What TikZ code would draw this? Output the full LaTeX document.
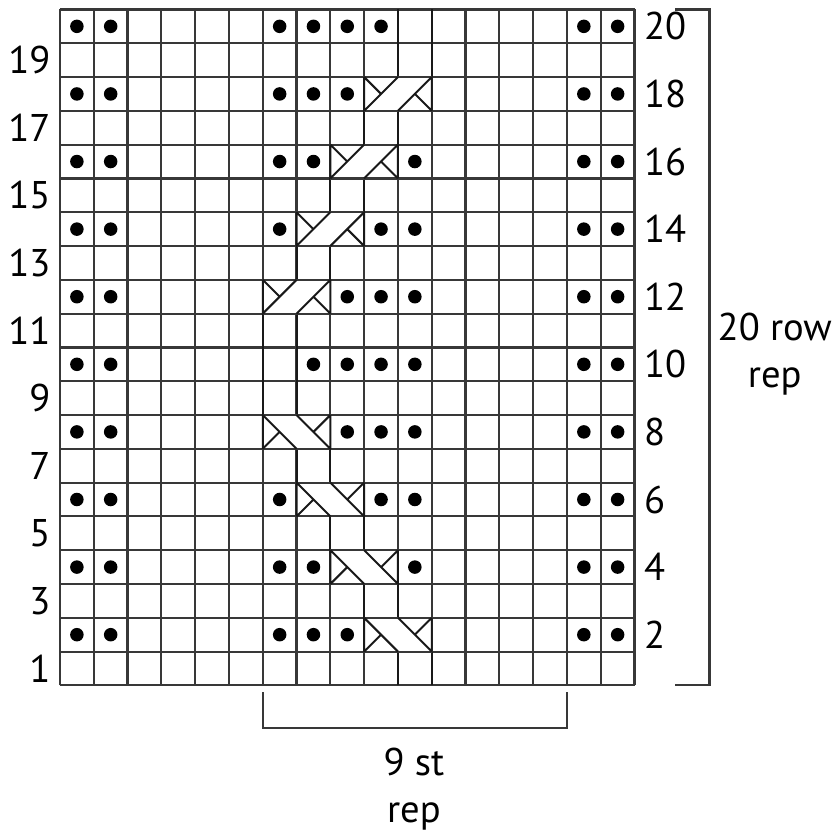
\documentclass[tikz,border=0pt]{standalone}
\usepackage{fontspec}
\setmainfont{PT Sans}
\usetikzlibrary{positioning}
% cable crossings over two cells: left column #1, row #2
\newcommand\cableR[2]{\fill[white] (#1-1,#2-1) rectangle (#1+1,#2);
 \draw[gl] (#1-1,#2-1)--(#1+1,#2-1) (#1-1,#2)--(#1+1,#2);
 \draw[st] (#1-1,#2-1)--(#1,#2) (#1,#2-1)--(#1+1,#2) (#1-1,#2)--(#1-.5,#2-.5) (#1+1,#2-1)--(#1+.5,#2-.5) (#1-1,#2-1)--(#1-1,#2) (#1+1,#2-1)--(#1+1,#2);}
\newcommand\cableL[2]{\fill[white] (#1-1,#2-1) rectangle (#1+1,#2);
 \draw[gl] (#1-1,#2-1)--(#1+1,#2-1) (#1-1,#2)--(#1+1,#2);
 \draw[st] (#1-1,#2)--(#1,#2-1) (#1,#2)--(#1+1,#2-1) (#1-1,#2-1)--(#1-.5,#2-.5) (#1+1,#2)--(#1+.5,#2-.5) (#1-1,#2-1)--(#1-1,#2) (#1+1,#2-1)--(#1+1,#2);}
\begin{document}
\begin{tikzpicture}[x=6mm,y=6mm,
 gl/.style={draw=black!78,line width=1.1pt},st/.style={draw=black!90,line width=1pt},
 num/.style={inner sep=0pt,font=\fontsize{19.5}{23.7}\selectfont},lab/.style={num,align=center}]
\useasboundingbox (-1.775,-4.31) rectangle (23.05,20.28);
\foreach \x in {0,...,17} \draw[gl] (\x,0)--(\x,20);
\foreach \y in {0,...,20} \draw[gl] (0,\y)--(17,\y);
% strand edges between crossings
\foreach \r/\s in {1/11,3/10,5/9,7/8,9/7,10/7,11/7,13/8,15/9,17/10,19/11,20/11}
 \draw[st] (\s-1,\r-1)--(\s-1,\r) (\s,\r-1)--(\s,\r);
\cableL{10}{2}\cableL{9}{4}\cableL{8}{6}\cableL{7}{8}
\cableR{7}{12}\cableR{8}{14}\cableR{9}{16}\cableR{10}{18}
% purl dots
\foreach \r/\cs in {20/{1,2,7,8,9,10,16,17},18/{1,2,7,8,9,16,17},16/{1,2,7,8,11,16,17},14/{1,2,7,10,11,16,17},12/{1,2,9,10,11,16,17},10/{1,2,8,9,10,11,16,17},8/{1,2,9,10,11,16,17},6/{1,2,7,10,11,16,17},4/{1,2,7,8,11,16,17},2/{1,2,7,8,9,16,17}}
 \foreach \c in \cs \fill (\c-.5,\r-.5) circle (.2);
\foreach \r in {2,4,...,20} \node[num,anchor=west] (r\r) at (17.27,\r-.5) {\r};
\foreach \r in {1,3,...,19} \node[num,anchor=east] (l\r) at (-.27,\r-.5) {\r};
\draw[gl] (18.2,20)--(19.22,20)--(19.22,0)--(18.2,0);
\draw[gl] (6,-.2)--(6,-1.27)--(15,-1.27)--(15,-.2);
\node[lab] (rowrep) at (21.15,9.81) {20 row\\rep};
\node[lab] (strep) at (10.47,-3.06) {9 st\\rep};
\end{tikzpicture}
\end{document}
